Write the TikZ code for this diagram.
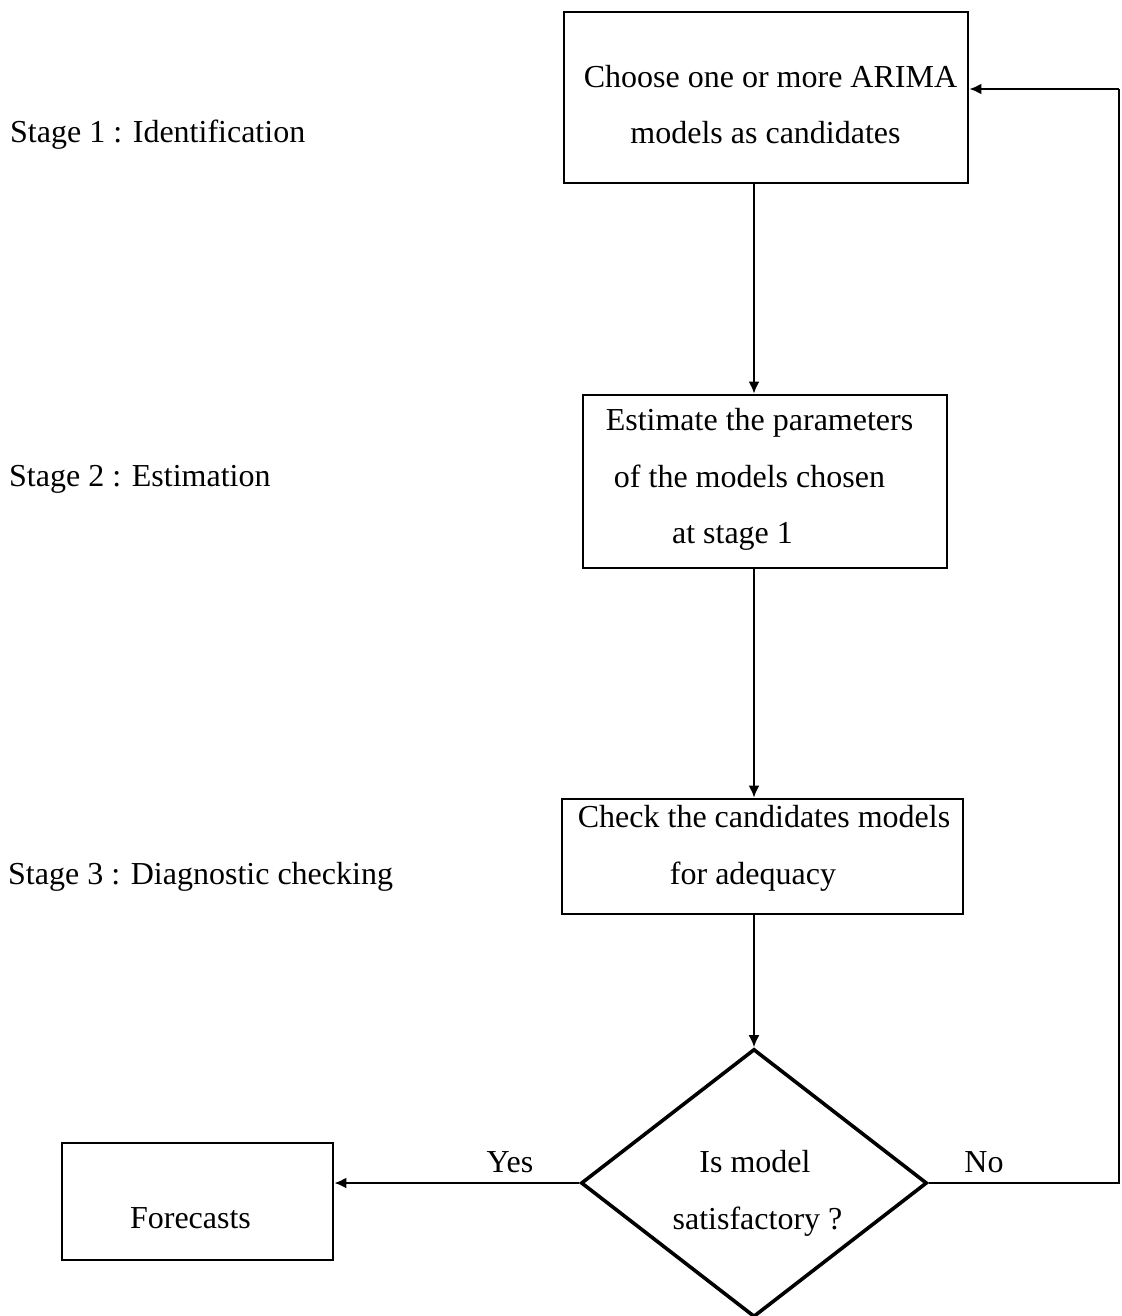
\documentclass[tikz,border=0pt]{standalone}
\usepackage{fontspec}
\setmainfont{Liberation Serif}
\usetikzlibrary{arrows.meta,shapes.geometric}

\tikzset{
  box/.style={draw, line width=2.8pt, inner sep=0pt},
  decision/.style={draw, diamond, line width=3.6pt, inner sep=0pt},
  txt/.style={inner sep=0pt, anchor=base, font=\fontsize{32}{38}\selectfont},
  ltxt/.style={txt, anchor=base west},
  flow/.style={line width=2pt, -{Latex[length=12pt,width=11pt]}},
  link/.style={line width=2pt}
}

\begin{document}
\begin{tikzpicture}[x=1pt,y=-1pt]
  \useasboundingbox[fill=white] (0,0) rectangle (1121,1316);

  % stage labels
  \node[ltxt] (s1) at (10,143) {Stage 1 : Identification};
  \node[ltxt] (s2) at (9,486) {Stage 2 : Estimation};
  \node[ltxt] (s3) at (8,884) {Stage 3 : Diagnostic checking};

  % process boxes
  \node[box, minimum width=404pt, minimum height=171pt] (b1) at (766,97.5) {};
  \node[txt] (b1a) at (770.5,88) {Choose one or more ARIMA};
  \node[txt] (b1b) at (765.5,144) {models as candidates};

  \node[box, minimum width=364pt, minimum height=173pt] (b2) at (765,481.5) {};
  \node[txt] (b2a) at (759.5,430) {Estimate the parameters};
  \node[txt] (b2b) at (749.5,487) {of the models chosen};
  \node[txt] (b2c) at (732.5,543) {at stage 1};

  \node[box, minimum width=401pt, minimum height=115pt] (b3) at (762.5,856.5) {};
  \node[txt] (b3a) at (764,827) {Check the candidates models};
  \node[txt] (b3b) at (753,884) {for adequacy};

  % decision
  \node[decision, minimum width=346pt, minimum height=268pt, shape aspect=1.291] (d) at (754,1183) {};
  \node[txt] (da) at (755,1172) {Is model};
  \node[txt] (db) at (757.5,1229) {satisfactory ?};

  % output
  \node[box, minimum width=271pt, minimum height=117pt] (f) at (197.5,1201.5) {};
  \node[txt] (fa) at (190.5,1228) {Forecasts};

  % branch labels
  \node[txt] (yes) at (510,1172) {Yes};
  \node[txt] (no) at (984,1172) {No};

  % main flow on the vertical spine
  \coordinate (spine) at (754,0);
  \draw[flow] (b1.south -| spine) -- (b2.north -| spine);
  \draw[flow] (b2.south -| spine) -- (b3.north -| spine);
  \draw[flow] (b3.south -| spine) -- (d.north);

  % yes branch
  \draw[flow] (d.west) -- (d.west -| f.east);

  % no branch: back to the first stage
  \coordinate (fb) at (1119,89);
  \draw[link] (d.east) -| (fb);
  \draw[flow] (fb) -- (fb -| b1.east);
\end{tikzpicture}
\end{document}
